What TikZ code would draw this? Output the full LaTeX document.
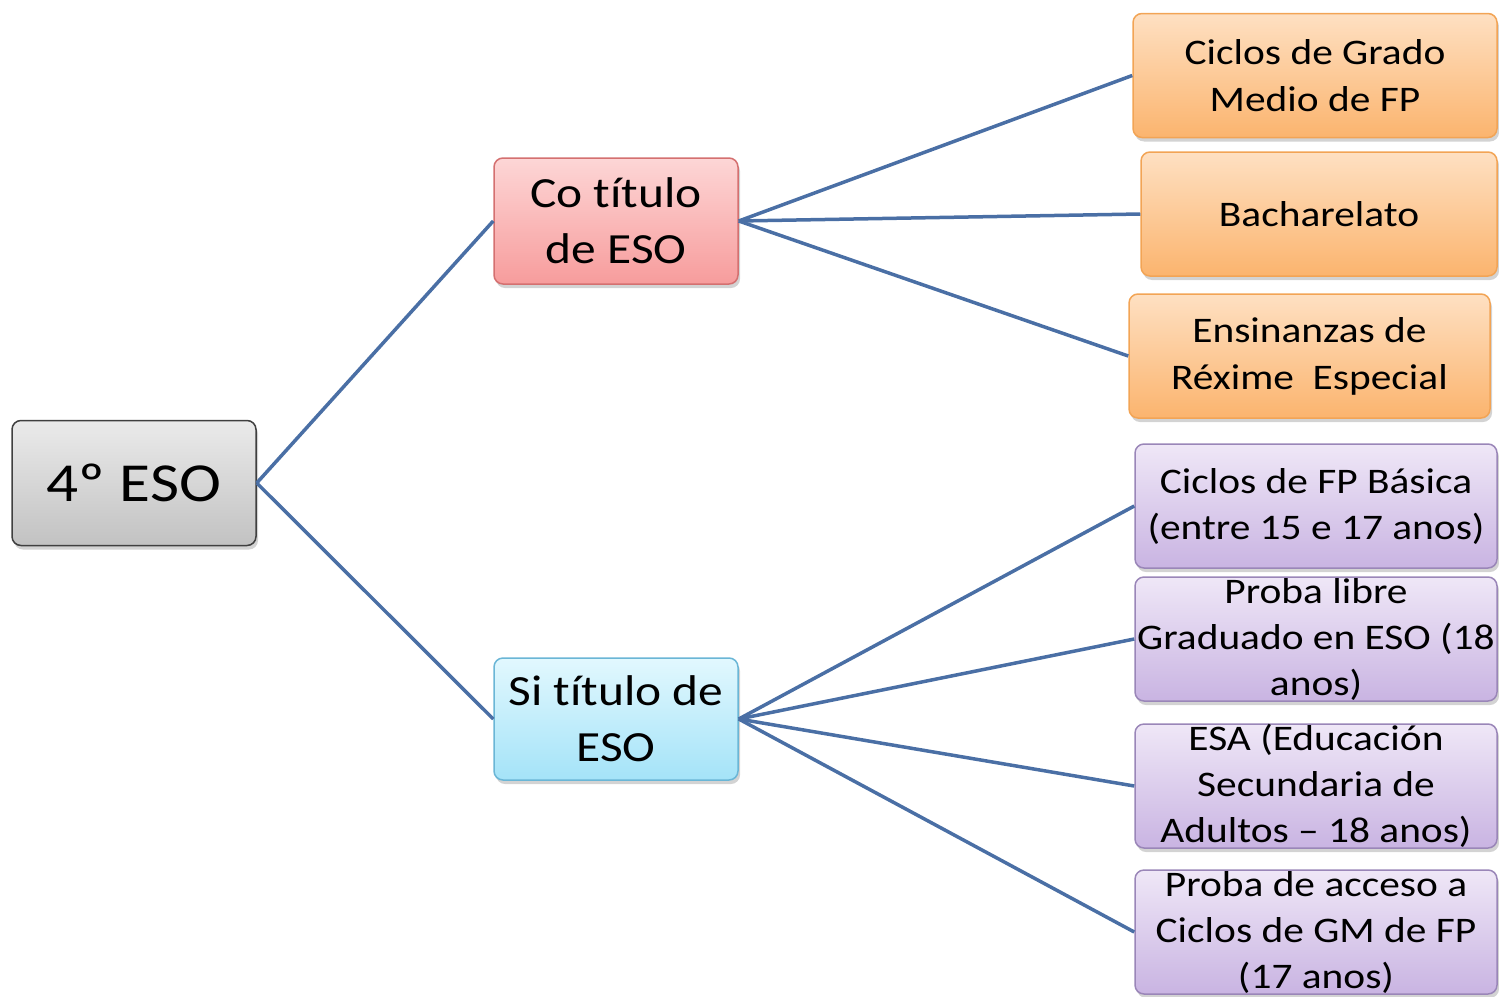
\documentclass[tikz,border=0pt]{standalone}
\usepackage{fontspec}
\setmainfont[FakeStretch=1.15, Ligatures=NoCommon]{Carlito}
\usetikzlibrary{positioning,shadows}
\definecolor{lineblue}{HTML}{4A6FA5}
\definecolor{rtop}{HTML}{FDD6D6}\definecolor{rbot}{HTML}{F79C9C}\definecolor{rdraw}{HTML}{D47070}
\definecolor{btop}{HTML}{E2F8FE}\definecolor{bbot}{HTML}{A4E3F8}\definecolor{bdraw}{HTML}{6AB6D6}
\definecolor{otop}{HTML}{FEE0C2}\definecolor{obot}{HTML}{FBB46E}\definecolor{odraw}{HTML}{F2A455}
\definecolor{ptop}{HTML}{EFE7F7}\definecolor{pbot}{HTML}{C9B4E2}\definecolor{pdraw}{HTML}{9A86B8}
\tikzset{
  box/.style={rounded corners=9pt, line width=1.5pt, align=center, inner sep=0pt,
    drop shadow={opacity=0.35, shadow xshift=2pt, shadow yshift=-4pt}},
  root/.style={box, draw=black!75, top color=black!8, bottom color=black!24,
    minimum width=244pt, minimum height=125pt, font=\fontsize{55}{60}\selectfont},
  yes/.style={box, draw=rdraw, top color=rtop, bottom color=rbot,
    minimum width=244pt, minimum height=126pt, font=\fontsize{43}{56}\selectfont},
  no/.style={box, draw=bdraw, top color=btop, bottom color=bbot,
    minimum width=244pt, minimum height=122pt, font=\fontsize{43}{56}\selectfont},
  orng/.style={box, draw=odraw, top color=otop, bottom color=obot,
    minimum height=124pt, font=\fontsize{36}{47}\selectfont},
  purp/.style={box, draw=pdraw, top color=ptop, bottom color=pbot,
    minimum width=362pt, minimum height=124pt, font=\fontsize{36}{46}\selectfont},
  ln/.style={lineblue, line width=3.5pt},
}
\begin{document}
\begin{tikzpicture}[x=1pt, y=-1pt]
\useasboundingbox (0,0) rectangle (1499,996);
\node[root] (eso) at (134,483) {4º ESO};
\node[yes] (con) at (616,221) {Co título\\de ESO};
\node[no] (sin) at (616,719) {Si título de\\ESO};
% con título
\node[orng, minimum width=364pt] (cgm) at (1315,75.5) {Ciclos de Grado\\Medio de FP};
\node[orng, minimum width=356pt] (bach) at (1319,214) {Bacharelato};
\node[orng, minimum width=361pt] (ere) at (1309.5,356) {Ensinanzas de\\Réxime~ Especial};
% sen título
\node[purp] (fpb) at (1316,506) {Ciclos de FP Básica\\(entre 15 e 17 anos)};
\node[purp] (plg) at (1316,639) {Proba libre\\Graduado en ESO (18\\anos)};
\node[purp] (esa) at (1316,786) {ESA (Educación\\Secundaria de\\Adultos – 18 anos)};
\node[purp] (pac) at (1316,932) {Proba de acceso a\\Ciclos de GM de FP\\(17 anos)};
\draw[ln] (eso.east) -- (con.west);
\draw[ln] (eso.east) -- (sin.west);
\draw[ln] (con.east) -- (cgm.west);
\draw[ln] (con.east) -- (bach.west);
\draw[ln] (con.east) -- (ere.west);
\draw[ln] (sin.east) -- (fpb.west);
\draw[ln] (sin.east) -- (plg.west);
\draw[ln] (sin.east) -- (esa.west);
\draw[ln] (sin.east) -- (pac.west);
\end{tikzpicture}
\end{document}
